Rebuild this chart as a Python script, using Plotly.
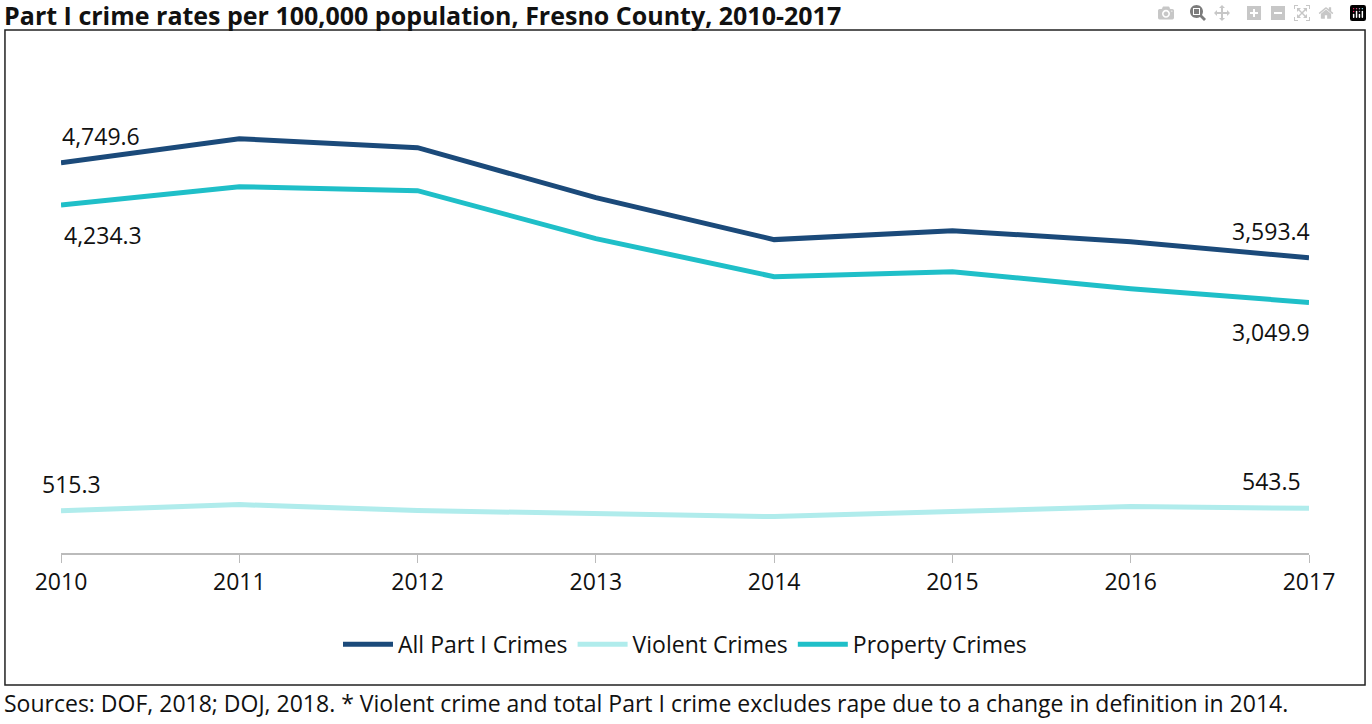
import plotly.graph_objects as go

years = [2010, 2011, 2012, 2013, 2014, 2015, 2016, 2017]
all_crimes = [4749.6, 5042, 4933, 4325, 3814, 3923, 3789, 3593.4]
violent = [515.3, 589, 516, 479, 443, 504, 565, 543.5]
property_c = [4234.3, 4458, 4410, 3826, 3363, 3424, 3217, 3049.9]

fig = go.Figure()
fig.add_trace(go.Scatter(x=years, y=all_crimes, name="All Part I Crimes", mode="lines",
                         line=dict(color="#1b4a7a", width=5)))
fig.add_trace(go.Scatter(x=years, y=violent, name="Violent Crimes", mode="lines",
                         line=dict(color="#b0ecec", width=5)))
fig.add_trace(go.Scatter(x=years, y=property_c, name="Property Crimes", mode="lines",
                         line=dict(color="#1fbfc8", width=5)))

def lab(x, y, above, xs=0):
    fig.add_annotation(x=x, y=y, text=f"{y:,.1f}", showarrow=False,
                       yshift=27 if above else -30, xshift=xs, font=dict(size=23, color="#111"))

lab(2010, all_crimes[0], True, 40)
lab(2010, property_c[0], False, 42)
lab(2010, violent[0], True, 10)
lab(2017, all_crimes[-1], True, -38)
lab(2017, property_c[-1], False, -38)
lab(2017, violent[-1], True, -38)

fig.add_shape(type="rect", xref="paper", yref="paper", x0=-0.0449, x1=1.0449, y0=-0.268, y1=1.061,
              line=dict(color="#222", width=1.5))

fig.update_layout(
    width=1372, height=724, paper_bgcolor="white", plot_bgcolor="white",
    margin=dict(l=61, r=63, t=60, b=171),
    font=dict(family="Open Sans", size=23, color="#111"),
    title=dict(text="<b>Part I crime rates per 100,000 population, Fresno County, 2010-2017</b>",
               x=0.003, xanchor="left", y=0.978, yanchor="middle", font=dict(size=25)),
    xaxis=dict(range=[2010, 2017], tickvals=years, showgrid=False, showline=True,
               linecolor="#bbb", linewidth=1.5, ticks="outside", ticklen=8, tickcolor="#bbb",
               tickfont=dict(size=23), zeroline=False),
    yaxis=dict(range=[0, 6000], visible=False),
    legend=dict(orientation="h", x=0.5, xanchor="center", y=-0.185, yanchor="middle",
                font=dict(size=23), itemwidth=50),
    showlegend=True,
)
fig.add_annotation(xref="paper", yref="paper", x=-0.047, y=-0.305, xanchor="left", yanchor="middle",
                   showarrow=False, font=dict(size=23),
                   text="Sources: DOF, 2018; DOJ, 2018. * Violent crime and total Part I crime excludes rape due to a change in definition in 2014.")
fig.write_html("out.html", post_script="document.body.style.margin='0';")
